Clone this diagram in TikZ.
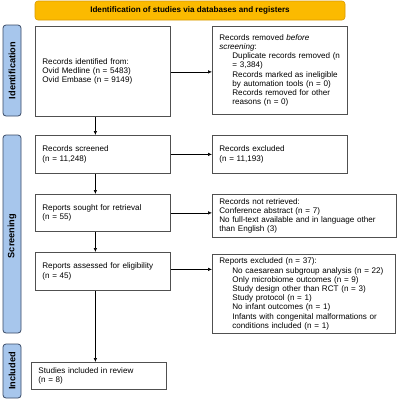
\documentclass[tikz,border=0pt]{standalone}
\usepackage{fontspec}
\setmainfont{Liberation Sans}
\usetikzlibrary{arrows.meta,calc}
\definecolor{hdrfill}{HTML}{FBBA00}
\definecolor{hdrline}{HTML}{D99A00}
\definecolor{sidefill}{HTML}{A7C6EC}
\definecolor{sideline}{HTML}{3A4A66}
\definecolor{boxline}{HTML}{505050}
\begin{document}
\begin{tikzpicture}[x=1pt,y=-1pt,
  fbox/.style={draw=boxline, line width=0.8pt, fill=white, inner xsep=7pt, inner ysep=0pt,
    align=left, font=\fontsize{8.1}{9.2}\selectfont, anchor=north west},
  sidelab/.style={draw=sideline, line width=0.8pt, fill=sidefill, rounded corners=3pt},
  sidetext/.style={rotate=90, font=\fontsize{9.2}{10}\selectfont\bfseries},
  arr/.style={-{Latex[length=4pt,width=3.5pt]}, line width=0.6pt, black}]
\useasboundingbox (0,0) rectangle (400,400);
\fill[white] (0,0) rectangle (400,400);
% header
\node[draw=hdrline, line width=0.6pt, fill=hdrfill, rounded corners=3pt, minimum width=310pt, minimum height=19pt,
  font=\fontsize{8.1}{9}\selectfont\bfseries, inner sep=0pt] (hdr) at (190,10.5) {Identification of studies via databases and registers};
% side labels
\draw[sidelab] (3,25) rectangle (21,116);
\node[sidetext] (lid) at (12,70.5) {Identification};
\draw[sidelab] (3,135) rectangle (21,333);
\node[sidetext] (lsc) at (12,236) {Screening};
\draw[sidelab] (3,344) rectangle (21,398);
\node[sidetext] (lin) at (12,371) {Included};
% boxes
\node[fbox, text width=121pt, minimum height=90pt] (ident) at (35,26)
 {Records identified from:\\Ovid Medline (n = 5483)\\Ovid Embase (n = 9149)};
\node[fbox, text width=121pt, minimum height=88pt] (removed) at (212,26)
 {Records removed \textit{before}\\\textit{screening}:\\
 \hspace*{13pt}Duplicate records removed (n\\
 \hspace*{13pt}= 3,384)\\
 \hspace*{13pt}Records marked as ineligible\\
 \hspace*{13pt}by automation tools (n = 0)\\
 \hspace*{13pt}Records removed for other\\
 \hspace*{13pt}reasons (n = 0)};
\node[fbox, text width=121pt, minimum height=38pt] (screened) at (35,135)
 {Records screened\\(n = 11,248)};
\node[fbox, text width=121pt, minimum height=38pt] (excl) at (212,135)
 {Records excluded\\(n = 11,193)};
\node[fbox, text width=121pt, minimum height=37pt] (sought) at (35,194)
 {Reports sought for retrieval\\(n = 55)};
\node[fbox, text width=170pt, minimum height=43pt] (notret) at (212,194)
 {Records not retrieved:\\Conference abstract (n = 7)\\No full-text available and in language other\\than English (3)};
\node[fbox, text width=121pt, minimum height=38pt] (assess) at (35,252)
 {Reports assessed for eligibility\\(n = 45)};
\node[fbox, text width=169pt, minimum height=79pt] (repexcl) at (212,254)
 {Reports excluded (n = 37):\\
 \hspace*{13pt}No caesarean subgroup analysis (n = 22)\\
 \hspace*{13pt}Only microbiome outcomes (n = 9)\\
 \hspace*{13pt}Study design other than RCT (n = 3)\\
 \hspace*{13pt}Study protocol (n = 1)\\
 \hspace*{13pt}No infant outcomes (n = 1)\\
 \hspace*{13pt}Infants with congenital malformations or\\
 \hspace*{13pt}conditions included (n = 1)};
\node[fbox, text width=121pt, minimum height=27pt] (incl) at (31,362)
 {Studies included in review\\(n = 8)};
% arrows
\draw[arr] ([xshift=-7.5pt]ident.south) -- ([xshift=-7.5pt]ident.south |- screened.north);
\draw[arr] ([xshift=-7.5pt]screened.south) -- ([xshift=-7.5pt]screened.south |- sought.north);
\draw[arr] ([xshift=-7.5pt]sought.south) -- ([xshift=-7.5pt]sought.south |- assess.north);
\draw[arr] ([xshift=-7.5pt]assess.south) -- ([xshift=-7.5pt]assess.south |- incl.north);
\draw[arr] ([yshift=-0.5pt]ident.east) -- ([yshift=-0.5pt]ident.east -| removed.west);
\draw[arr] (screened.east) -- (screened.east -| excl.west);
\draw[arr] (sought.east) -- (sought.east -| notret.west);
\draw[arr] ([yshift=2pt]assess.east) -- ([yshift=2pt]assess.east -| repexcl.west);
\end{tikzpicture}
\end{document}
